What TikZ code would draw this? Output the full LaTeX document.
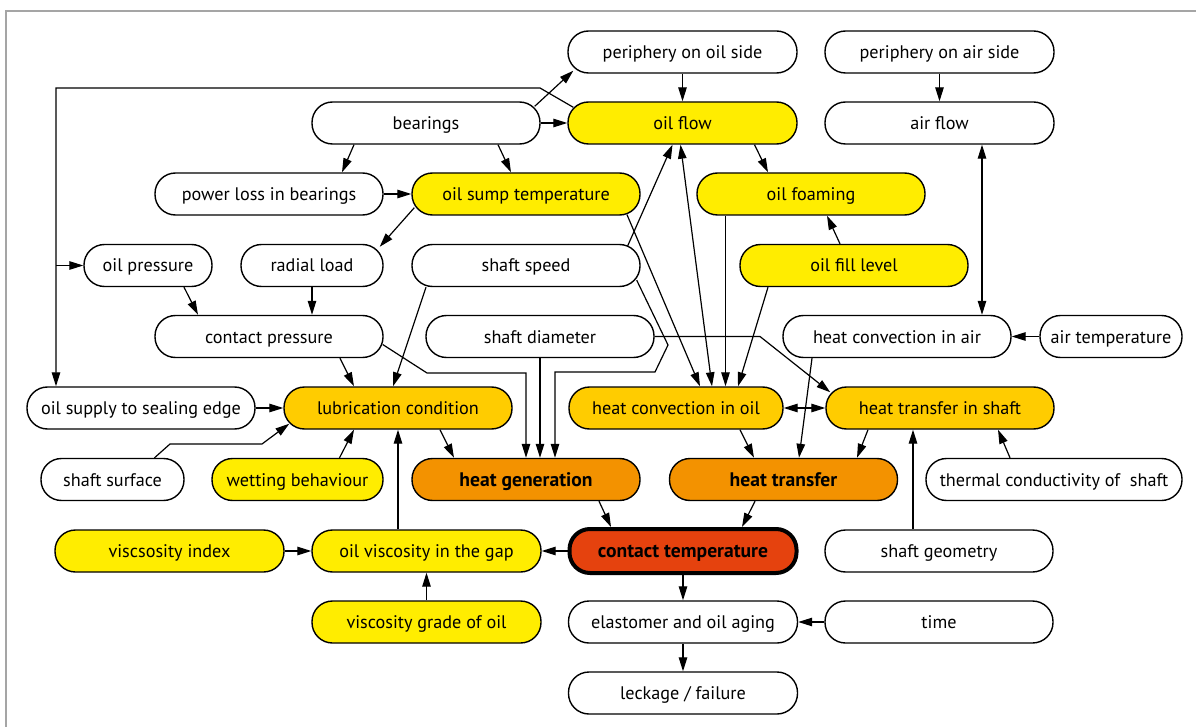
\documentclass[tikz,border=0pt]{standalone}
\usepackage{fontspec}
\setmainfont{PT Sans}
\usetikzlibrary{arrows.meta,calc}
\definecolor{cyel}{RGB}{255,237,0}
\definecolor{camb}{RGB}{255,204,0}
\definecolor{cora}{RGB}{243,146,0}
\definecolor{cred}{RGB}{229,66,14}
\definecolor{cframe}{RGB}{165,165,165}
\begin{document}
\begin{tikzpicture}[x=1pt,y=-1pt,
  box/.style={draw=black, line width=1.4pt, rounded corners=20.5pt, minimum height=42pt, inner sep=0pt, fill=white, text height=17pt, text depth=4pt, font=\fontsize{18.2}{20}\selectfont},
  yel/.style={box, fill=cyel},
  amb/.style={box, fill=camb},
  ora/.style={box, fill=cora, font=\fontsize{19.6}{22}\selectfont\bfseries},
  red/.style={box, fill=cred, line width=4pt, font=\fontsize{19.6}{22}\selectfont\bfseries},
  arr/.style={-{Triangle[length=14pt,width=8.5pt]}, line width=1.2pt},
  darr/.style={{Triangle[length=14pt,width=8.5pt]}-{Triangle[length=14pt,width=8.5pt]}, line width=1.2pt}]
\useasboundingbox (0,0) rectangle (1196,727);
\fill[white] (0,0) rectangle (1196,727);
\draw[cframe, line width=2pt] (6,740) -- (6,11) -- (1210,11);

% row 1
\node[box, minimum width=229pt] (pos) at (682.5,52) {periphery on oil side};
\node[box, minimum width=229pt] (pas) at (939.5,52) {periphery on air side};
% row 2
\node[box, minimum width=228pt] (bear) at (426,123) {bearings};
\node[yel, minimum width=229pt] (oilflow) at (682.5,123) {oil flow};
\node[box, minimum width=229pt] (airflow) at (939.5,123) {air flow};
% row 3
\node[box, minimum width=228pt] (ploss) at (269,194) {power loss in bearings};
\node[yel, minimum width=228pt] (sump) at (526,194) {oil sump temperature};
\node[yel, minimum width=228pt] (foam) at (811,194) {oil foaming};
% row 4
\node[box, minimum width=128pt] (opress) at (148,265.5) {oil pressure};
\node[box, minimum width=142pt] (radial) at (312,265.5) {radial load};
\node[box, minimum width=228pt] (speed) at (526,265.5) {shaft speed};
\node[yel, minimum width=228pt] (fill) at (854,265.5) {oil fill level};
% row 5
\node[box, minimum width=228pt] (cpress) at (269,336.5) {contact pressure};
\node[box, minimum width=228pt] (diam) at (540,336.5) {shaft diameter};
\node[box, minimum width=228pt] (hcair) at (897,336.5) {heat convection in air};
\node[box, minimum width=142pt] (airtemp) at (1111,336.5) {air temperature};
% row 6
\node[box, minimum width=228pt] (supply) at (141,408) {oil supply to sealing edge};
\node[amb, minimum width=228pt] (lub) at (398,408) {lubrication condition};
\node[amb, minimum width=214pt] (hcoil) at (676,408) {heat convection in oil};
\node[amb, minimum width=228pt] (hts) at (940,408) {heat transfer in shaft};
% row 7
\node[box, minimum width=143pt] (surface) at (112.5,479.5) {shaft surface};
\node[yel, minimum width=171pt] (wet) at (297.5,479.5) {wetting behaviour};
\node[ora, minimum width=228pt] (hgen) at (526,479.5) {heat generation};
\node[ora, minimum width=228pt] (htr) at (783.5,479.5) {heat transfer};
\node[box, minimum width=256pt] (tcond) at (1054,479.5) {thermal conductivity of~ shaft};
% row 8
\node[yel, minimum width=229pt] (vindex) at (169.5,551) {viscsosity index};
\node[yel, minimum width=229pt] (visc) at (426.5,551) {oil viscosity in the gap};
\node[red, minimum width=227pt, minimum height=44pt] (ctemp) at (683,551) {contact temperature};
\node[box, minimum width=228pt] (sgeom) at (939,551) {shaft geometry};
% row 9
\node[yel, minimum width=229pt] (vgrade) at (426.5,622) {viscosity grade of oil};
\node[box, minimum width=229pt] (aging) at (683,622) {elastomer and oil aging};
\node[box, minimum width=228pt] (time) at (939,622) {time};
% row 10
\node[box, minimum width=229pt] (leak) at (683,693) {leckage / failure};

% connectors
\draw[arr] ($(bear.north east)+(-6,5)$) -- ($(pos.south west)+(6,-3)$);
\draw[arr] (bear.east) -- (oilflow.west);
\draw[arr] (pos.south) -- (oilflow.north);
\draw[arr] (pas.south) -- (airflow.north);
\draw[arr] ($(bear.south)+(-72,0)$) -- ($(ploss.north)+(73,0)$);
\draw[arr] ($(bear.south)+(72,0)$) -- ($(sump.north)+(-15,0)$);
\draw[arr] (ploss.east) -- (sump.west);
\draw[arr] ($(sump.south west)+(3,-8)$) -- ($(radial.north east)+(-4,3)$);
\draw[arr] ($(oilflow.south)+(72,0)$) -- ($(foam.north)+(-43,0)$);
\draw[arr] ($(fill.north)+(-14,0)$) -- ($(foam.south)+(16,0)$);
\draw[darr] ($(airflow.south)+(42.5,0)$) -- ($(hcair.north)+(85,0)$);
\draw[arr] (airtemp.west) -- (hcair.east);
\draw[arr] ($(speed.north east)+(-13,2)$) -- ($(oilflow.south)+(-10,0)$);
\draw[darr] ($(oilflow.south)+(-2,0)$) -- ($(hcoil.north)+(36,0)$);
\draw[arr] ($(sump.south)+(101,-1)$) -- ($(hcoil.north)+(24,0)$);
\draw[arr] ($(foam.south)+(-85.5,0)$) -- ($(hcoil.north)+(49.5,0)$);
\draw[arr] ($(fill.south)+(-86,0)$) -- ($(hcoil.north)+(62,0)$);
\draw[arr] ($(speed.south east)+(-4,-7)$) -- (668,345) -- (655,372) -- (555,372) -- ($(hgen.north)+(29,0)$);
\draw[arr] (diam.south) -- ($(hgen.north)+(14,0)$);
\draw[arr] ($(cpress.east)+(-1,8)$) -- (427,373) -- (526,373) -- (hgen.north);
\draw[arr] ($(speed.south)+(-100,0)$) -- ($(lub.north)+(-5,0)$);
\draw[arr] ($(cpress.south)+(71,0)$) -- ($(lub.north)+(-44,0)$);
\draw[arr] ($(opress.south)+(36,0)$) -- ($(cpress.north)+(-71,0)$);
\draw[arr] (radial.south) -- ($(cpress.north)+(43,0)$);
\draw[arr] (supply.east) -- (lub.west);
\draw[arr] ($(surface.north)+(42,0)$) -- (170,444) -- (262,444) -- ($(lub.south west)+(6,-6)$);
\draw[arr] ($(wet.north)+(42,0)$) -- ($(lub.south)+(-44,0)$);
\draw[arr] ($(visc.north)+(-28.5,0)$) -- (lub.south);
\draw[arr] ($(lub.south)+(42,0)$) -- ($(hgen.north)+(-72,0)$);
\draw[darr] (hcoil.east) -- (hts.west);
\draw[arr] (diam.east) -- (760,336.5) -- ($(hts.north west)+(5,6)$);
\draw[arr] ($(hcoil.south)+(64,0)$) -- ($(htr.north)+(-29.5,0)$);
\draw[arr] ($(hcair.south)+(-85,0)$) -- ($(htr.north)+(15.5,0)$);
\draw[arr] ($(hts.south)+(-72,0)$) -- ($(htr.north)+(73.5,0)$);
\draw[arr] ($(sgeom.north)+(-26,0)$) -- ($(hts.south)+(-27,0)$);
\draw[arr] ($(tcond.north)+(-44,0)$) -- ($(hts.south)+(58,0)$);
\draw[arr] ($(hgen.south)+(73,0)$) -- ($(ctemp.north)+(-72,0)$);
\draw[arr] ($(htr.south)+(-28.5,0)$) -- ($(ctemp.north)+(59,0)$);
\draw[arr] (ctemp.west) -- (visc.east);
\draw[arr] (vindex.east) -- (visc.west);
\draw[arr] (vgrade.north) -- (visc.south);
\draw[arr] (ctemp.south) -- (aging.north);
\draw[arr] (time.west) -- (aging.east);
\draw[arr] (aging.south) -- (leak.north);
% oil flow -> oil supply / oil pressure
\coordinate (jx) at (56,265.5);
\draw[arr] ($(oilflow.north west)+(6,6)$) -- (540,88) -- (56,88) -- ($(supply.north)+(-85,0)$);
\draw[arr] (jx) -- (opress.west);
\end{tikzpicture}
\end{document}
